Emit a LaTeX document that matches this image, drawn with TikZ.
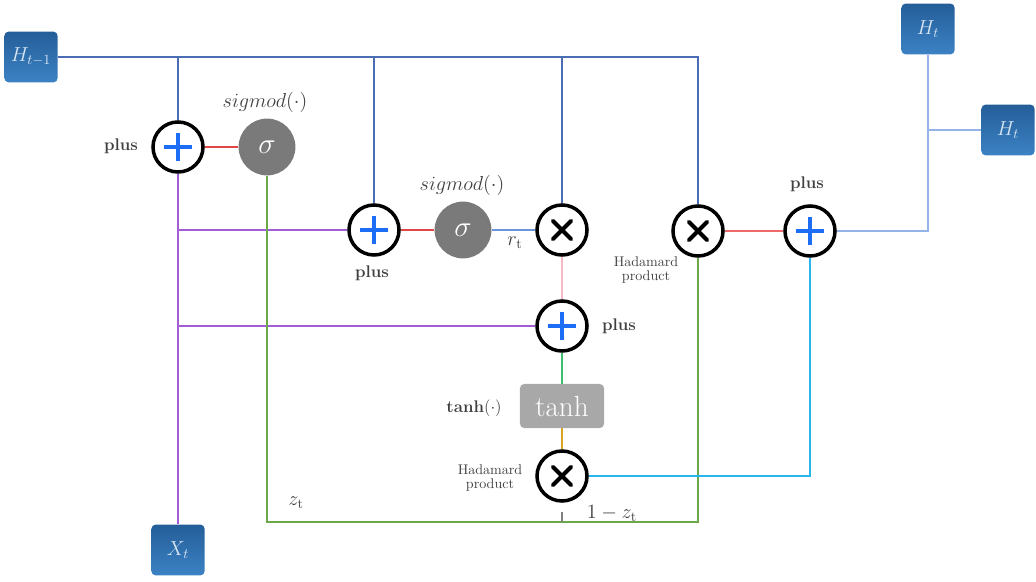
\documentclass[tikz,border=0pt]{standalone}
\usepackage{amsmath}
\usepackage{tikz}
\usetikzlibrary{positioning}

\definecolor{hblue}{HTML}{3C82C4}
\definecolor{hbluedark}{HTML}{245E99}
\definecolor{topblue}{HTML}{4A6DB5}
\definecolor{gatepurple}{HTML}{A05DD6}
\definecolor{gatered}{HTML}{E04848}
\definecolor{zgreen}{HTML}{6DA84A}
\definecolor{rblue}{HTML}{6A95DB}
\definecolor{pinkline}{HTML}{F5B8C4}
\definecolor{tgreen}{HTML}{3DBE6E}
\definecolor{goldline}{HTML}{D9A521}
\definecolor{cyanline}{HTML}{29B6EE}
\definecolor{outblue}{HTML}{94B3E6}
\definecolor{outred}{HTML}{F06A6A}
\definecolor{sgray}{HTML}{7A7A7A}
\definecolor{tgray}{HTML}{A8A8A8}
\definecolor{plusblue}{HTML}{1E6EF5}
\definecolor{labgray}{HTML}{404040}

\tikzset{
  hbox/.style={rounded corners=3pt, top color=hbluedark, bottom color=hblue,
    minimum width=1.33cm, minimum height=1.27cm, inner sep=0pt,
    text=white!80!hblue, font=\Large},
  opplus/.style={circle, draw=black, line width=2.5pt, fill=white, minimum size=1.25cm,
    path picture={\draw[plusblue, line width=2.8pt]
      ([xshift=-10pt]path picture bounding box.center) -- ([xshift=10pt]path picture bounding box.center)
      ([yshift=-10pt]path picture bounding box.center) -- ([yshift=10pt]path picture bounding box.center);}},
  optimes/.style={circle, draw=black, line width=2.5pt, fill=white, minimum size=1.25cm,
    path picture={\draw[black, line width=2.8pt, line cap=round]
      ([shift={(-6.5pt,-6.5pt)}]path picture bounding box.center) -- ([shift={(6.5pt,6.5pt)}]path picture bounding box.center)
      ([shift={(-6.5pt,6.5pt)}]path picture bounding box.center) -- ([shift={(6.5pt,-6.5pt)}]path picture bounding box.center);}},
  sigmanode/.style={circle, fill=sgray, minimum size=1.42cm, text=white, font=\huge},
  tanhbox/.style={rounded corners=3pt, fill=tgray, minimum width=2.1cm, minimum height=1.1cm,
    text=white, font=\huge},
  lab/.style={text=labgray, inner sep=1pt},
  wire/.style={line width=1.3pt},
}

\begin{document}
\begin{tikzpicture}[x=0.025cm, y=-0.025cm]
    \useasboundingbox (0,0) rectangle (1036,582);

    % inputs and outputs
    \node[hbox] (Hprev) at (31,57) {$H_{t-1}$};
    \node[hbox] (Xt) at (178,550) {$X_t$};
    \node[hbox] (Htop) at (928,29) {$H_t$};
    \node[hbox] (Hright) at (1008,130) {$H_t$};

    % gates
    \node[opplus] (plusA) at (178,147) {};
    \node[sigmanode] (sigA) at (267,147) {$\sigma$};
    \node[opplus] (plusB) at (374,230) {};
    \node[sigmanode] (sigB) at (463,230) {$\sigma$};
    \node[optimes] (mulA) at (562,230) {};
    \node[opplus] (plusC) at (562,326) {};
    \node[tanhbox] (tanhA) at (562,406) {tanh};
    \node[optimes] (mulB) at (562,476) {};
    \node[optimes] (mulC) at (698,231) {};
    \node[opplus] (plusD) at (810,231) {};

    \coordinate (zbend) at (267,522);
    \coordinate (zend) at (698,522);
    \coordinate (tick) at (562,512);

    % labels
    \node[lab, font=\Large] (lsigA) at (265,102) {$sigmod(\cdot)$};
    \node[lab, font=\large\bfseries] (lplusA) at (121,146) {plus};
    \node[lab, font=\large\bfseries] (lplusB) at (372,273) {plus};
    \node[lab, font=\Large] (lsigB) at (462,185) {$sigmod(\cdot)$};
    \node[lab, font=\Large] (lrt) at (515,243) {$r_{\mathrm{t}}$};
    \node[lab, font=\large\bfseries] (lplusC) at (619,326) {plus};
    \node[lab, font=\large\bfseries] (ltanh) at (474,408) {tanh$(\cdot)$};
    \node[lab, align=center] (lmulB) at (490,478) {Hadamard\\[-2pt]product};
    \node[lab, align=center] (lmulC) at (646,270) {Hadamard\\[-2pt]product};
    \node[lab, font=\large\bfseries] (lplusD) at (807,184) {plus};
    \node[lab, font=\Large] (lzt) at (296,503) {$z_{\mathrm{t}}$};
    \node[lab, font=\Large] (lonez) at (612,513) {$1-z_{\mathrm{t}}$};

    % hidden state in
    \draw[wire, topblue] (Hprev.east) -| (mulC.north);
    \draw[wire, topblue] (plusA.north) -- (plusA.north |- Hprev.east);
    \draw[wire, topblue] (plusB.north) -- (plusB.north |- Hprev.east);
    \draw[wire, topblue] (mulA.north) -- (mulA.north |- Hprev.east);

    % input x_t
    \draw[wire, gatepurple] (Xt.north) -- (plusA.south);
    \draw[wire, gatepurple] (plusA |- plusB) -- (plusB.west);
    \draw[wire, gatepurple] (plusA |- plusC) -- (plusC.west);

    % update and reset gates
    \draw[wire, gatered] (plusA.east) -- (sigA.west);
    \draw[wire, gatered] (plusB.east) -- (sigB.west);
    \draw[wire, rblue] (sigB.east) -- (mulA.west);
    \draw[wire, zgreen] (sigA.south) -- (zbend) -- (zend) -- (mulC.south);
    \draw[line width=1pt, gray] (tick) -- (tick |- zend);

    % candidate
    \draw[wire, pinkline] (mulA.south) -- (plusC.north);
    \draw[wire, tgreen] (plusC.south) -- (tanhA.north);
    \draw[wire, goldline] (tanhA.south) -- (mulB.north);
    \draw[wire, cyanline] (mulB.east) -| (plusD.south);
    \draw[wire, outred] (mulC.east) -- (plusD.west);

    % output
    \draw[wire, outblue] (plusD.east) -| (Htop.south);
    \draw[wire, outblue] (Htop.south |- Hright.west) -- (Hright.west);
\end{tikzpicture}
\end{document}
